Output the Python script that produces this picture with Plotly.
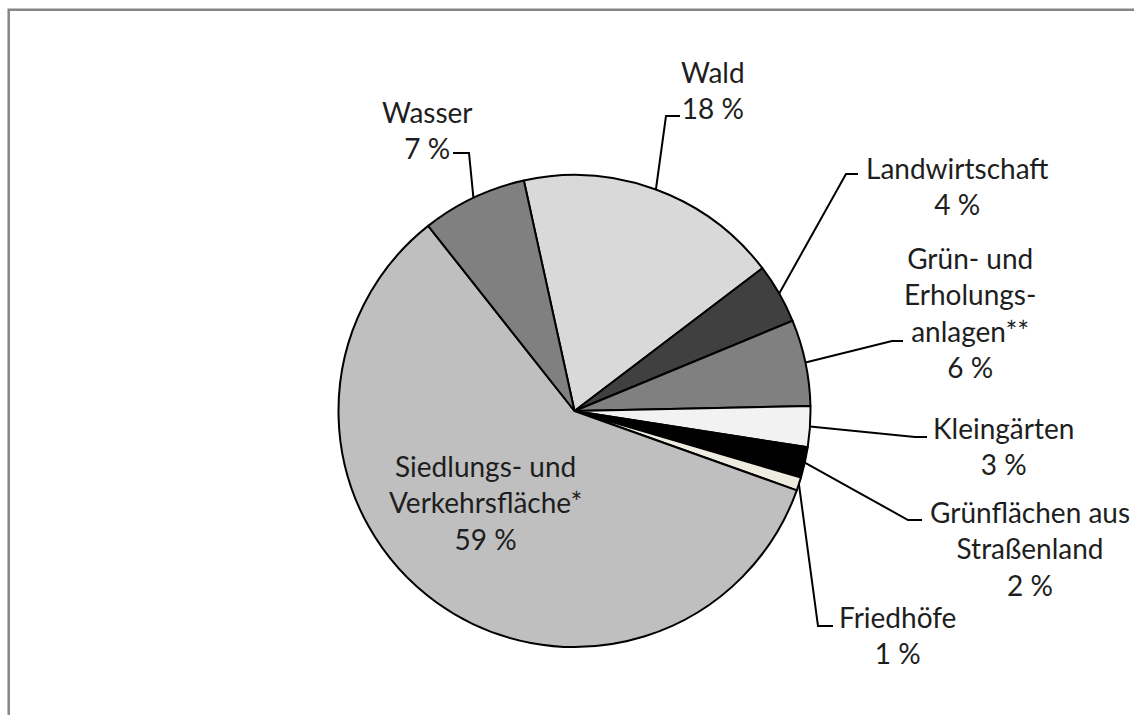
import math
import plotly.graph_objects as go

# ---------------- data ----------------
categories = ["Wald", "Landwirtschaft", "Grün- und Erholungsanlagen**", "Kleingärten",
              "Grünflächen aus Straßenland", "Friedhöfe",
              "Siedlungs- und Verkehrsfläche*", "Wasser"]
values = [18.1, 4.1, 5.9, 2.8, 2.1, 0.9, 58.9, 7.2]
percent_labels = ["18 %", "4 %", "6 %", "3 %", "2 %", "1 %", "59 %", "7 %"]
label_lines = [["Wald"], ["Landwirtschaft"], ["Grün- und", "Erholungs-", "anlagen**"],
               ["Kleingärten"], ["Grünflächen aus", "Straßenland"], ["Friedhöfe"],
               ["Siedlungs- und", "Verkehrsfläche*"], ["Wasser"]]

# ---------------- styles / layout ----------------
colors = ["#d9d9d9", "#404040", "#808080", "#f2f2f2", "#000000", "#eeece1", "#bfbfbf", "#808080"]
W, H = 1134, 715
CX, CY, R = 574.5, 411.0, 236.0
START_ANGLE = -12.4  # degrees, clockwise from 12 o'clock
FONT = dict(family="Lato, 'Open Sans', sans-serif", size=28, color="#1e1e1e")

# label centre and leader elbow/end (pixel positions), None = no leader
label_pos = {
    "Wald": ((713, 90), [(666, 116), (680, 116)]),
    "Landwirtschaft": ((957, 186), [(846, 174), (858, 174)]),
    "Grün- und Erholungsanlagen**": ((970, 312), [(892, 341), (903, 341)]),
    "Kleingärten": ((1003, 446), [(915, 437), (927, 437)]),
    "Grünflächen aus Straßenland": ((1030, 548), [(908, 520), (922, 520)]),
    "Friedhöfe": ((897, 635), [(818, 626), (833, 626)]),
    "Siedlungs- und Verkehrsfläche*": ((485, 502), None),
    "Wasser": ((427, 130), [(469, 153), (453, 153)]),
}

fig = go.Figure()

fig.add_trace(go.Pie(
    labels=categories,
    values=values,
    sort=False,
    direction="clockwise",
    rotation=START_ANGLE,
    marker=dict(colors=colors, line=dict(color="#000000", width=2)),
    textinfo="none",
    hoverinfo="label+percent",
    showlegend=False,
    domain=dict(x=[(CX - R) / W, (CX + R) / W], y=[1 - (CY + R) / H, 1 - (CY - R) / H]),
))

# invisible pixel-space axes for leader lines and labels
fig.add_trace(go.Scatter(x=[0, W], y=[0, H], mode="markers", marker=dict(opacity=0),
                         hoverinfo="skip", showlegend=False))

shapes = []
annotations = []
total = sum(values)
cum = 0.0
for cat, v, pct, lines in zip(categories, values, percent_labels, label_lines):
    mid = math.radians(START_ANGLE + 360.0 * (cum + v / 2) / total)
    cum += v
    (tx, ty), leader = label_pos[cat]
    if leader:
        sx = CX + R * math.sin(mid)
        sy = CY - R * math.cos(mid)
        pts = [(sx, sy)] + leader
        path = "M " + " L ".join(f"{px:.1f},{py:.1f}" for px, py in pts)
        shapes.append(dict(type="path", path=path, xref="x", yref="y",
                           line=dict(color="#000000", width=2)))
    annotations.append(dict(x=tx, y=ty, xref="x", yref="y", showarrow=False,
                            text="<br>".join(lines + [pct]), align="center",
                            xanchor="center", yanchor="middle", font=FONT))

# outer chart frame (grey)
shapes.append(dict(type="rect", xref="x", yref="y", x0=8.7, y0=9.7, x1=W + 20, y1=H + 20,
                   line=dict(color="#868686", width=2.5), layer="below"))

fig.update_layout(
    width=W, height=H,
    margin=dict(l=0, r=0, t=0, b=0),
    paper_bgcolor="white", plot_bgcolor="rgba(0,0,0,0)",
    xaxis=dict(range=[0, W], visible=False, fixedrange=True),
    yaxis=dict(range=[H, 0], visible=False, fixedrange=True),
    shapes=shapes,
    annotations=annotations,
)

fig.write_html("out.html",
               config={"displayModeBar": False},
               post_script="document.body.style.margin='0';"
                           "document.body.style.overflow='hidden';")
